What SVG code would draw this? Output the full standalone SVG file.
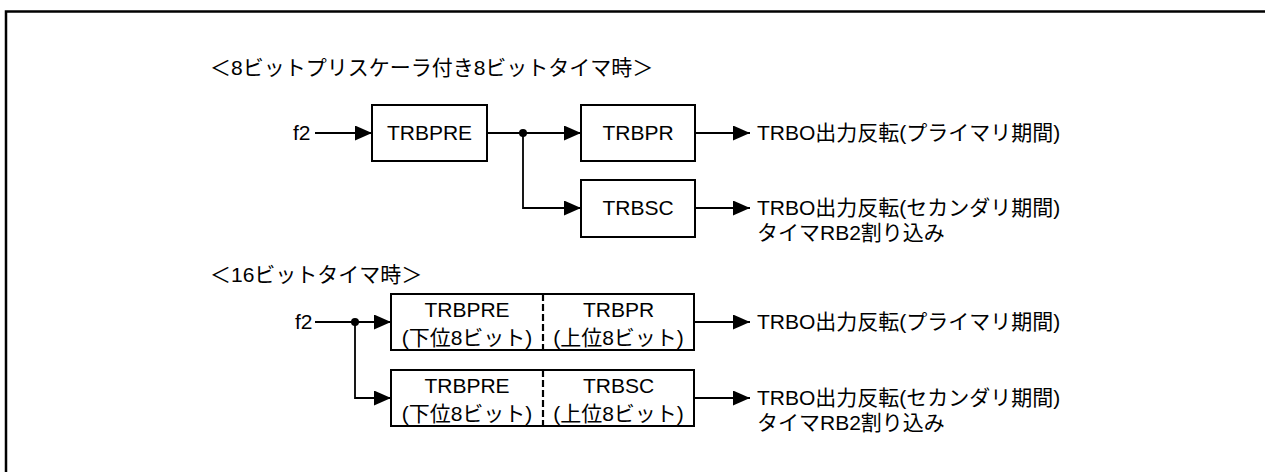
<svg xmlns="http://www.w3.org/2000/svg" width="1265" height="472" viewBox="0 0 1265 472">
<style>
text{font-family:"Liberation Sans","Noto Sans CJK JP",sans-serif;font-size:21px;fill:#000}
.c{text-anchor:middle}
.box{fill:#fff;stroke:#000;stroke-width:2}
.ln{fill:none;stroke:#000;stroke-width:1.8}
.dash{stroke:#000;stroke-width:2.2;stroke-dasharray:7 3}
</style>
<defs>
<marker id="ah" viewBox="0 0 17 15" refX="17" refY="7.5" markerWidth="17" markerHeight="15" markerUnits="userSpaceOnUse" orient="auto">
<path d="M0,0 L17,7.5 L0,15 Z" fill="#000"/>
</marker>
</defs>
<rect width="1265" height="472" fill="#fff"/>
<path d="M6,472 V11.5 H1265" fill="none" stroke="#000" stroke-width="2.5"/>

<text x="210" y="75">＜8ビットプリスケーラ付き8ビットタイマ時＞</text>
<text x="210" y="282">＜16ビットタイマ時＞</text>

<g id="connectors">
<path class="ln" d="M315,133 H372" marker-end="url(#ah)"/>
<path class="ln" d="M487,133 H581" marker-end="url(#ah)"/>
<path class="ln" d="M523,133 V208 H581" marker-end="url(#ah)"/>
<path class="ln" d="M695,133 H750" marker-end="url(#ah)"/>
<path class="ln" d="M695,208 H750" marker-end="url(#ah)"/>
<circle cx="523" cy="133" r="4" fill="#000"/>
<path class="ln" d="M315,322 H391" marker-end="url(#ah)"/>
<path class="ln" d="M355,322 V398 H391" marker-end="url(#ah)"/>
<path class="ln" d="M694,322 H750" marker-end="url(#ah)"/>
<path class="ln" d="M694,398 H750" marker-end="url(#ah)"/>
<circle cx="355" cy="322" r="4" fill="#000"/>
</g>

<g id="f2-top"><text x="293" y="140">f2</text></g>
<g id="trbpre"><rect class="box" x="372" y="105" width="115" height="56"/><text class="c" x="429.5" y="140">TRBPRE</text></g>
<g id="trbpr"><rect class="box" x="581" y="105" width="114" height="56"/><text class="c" x="638" y="140">TRBPR</text></g>
<g id="trbsc"><rect class="box" x="581" y="180" width="114" height="57"/><text class="c" x="638" y="215">TRBSC</text></g>
<g id="out1"><text x="757" y="140">TRBO出力反転(プライマリ期間)</text></g>
<g id="out2"><text x="757" y="215">TRBO出力反転(セカンダリ期間)</text><text x="757" y="240">タイマRB2割り込み</text></g>

<g id="f2-bottom"><text x="295" y="329">f2</text></g>
<g id="box16a">
<rect class="box" x="391" y="294" width="303" height="56"/>
<line class="dash" x1="543" y1="294" x2="543" y2="350"/>
<text class="c" x="467" y="317">TRBPRE</text>
<text class="c" x="467" y="345">(下位8ビット)</text>
<text class="c" x="618.5" y="317">TRBPR</text>
<text class="c" x="618.5" y="345">(上位8ビット)</text>
</g>
<g id="box16b">
<rect class="box" x="391" y="370" width="303" height="56"/>
<line class="dash" x1="543" y1="370" x2="543" y2="426"/>
<text class="c" x="467" y="393">TRBPRE</text>
<text class="c" x="467" y="421">(下位8ビット)</text>
<text class="c" x="618.5" y="393">TRBSC</text>
<text class="c" x="618.5" y="421">(上位8ビット)</text>
</g>
<g id="out3"><text x="757" y="329">TRBO出力反転(プライマリ期間)</text></g>
<g id="out4"><text x="757" y="405">TRBO出力反転(セカンダリ期間)</text><text x="757" y="430">タイマRB2割り込み</text></g>
</svg>
